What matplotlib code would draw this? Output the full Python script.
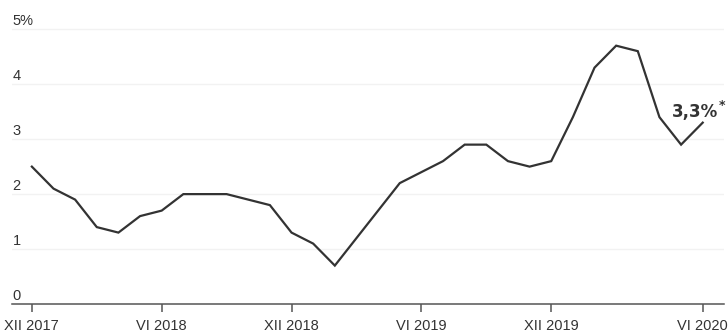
import matplotlib.pyplot as plt
import numpy as np

# monthly inflation, %
values = [2.5, 2.1, 1.9, 1.4, 1.3, 1.6, 1.7, 2.0, 2.0, 2.0, 1.9, 1.8,
          1.3, 1.1, 0.7, 1.2, 1.7, 2.2, 2.4, 2.6, 2.9, 2.9, 2.6, 2.5,
          2.6, 3.4, 4.3, 4.7, 4.6, 3.4, 2.9, 3.3]
tick_pos = [0, 6, 12, 18, 24, 31]
tick_labels = ["XII 2017", "VI 2018", "XII 2018", "VI 2019", "XII 2019", "VI 2020"]
y_levels = [0, 1, 2, 3, 4, 5]
y_labels = ["0", "1", "2", "3", "4", "5%"]
last_label = "3,3%"

narrow = ['Liberation Sans', 'DejaVu Sans']
dark = '#333333'

fig = plt.figure(figsize=(7.28, 3.36), dpi=100)
ax = fig.add_axes([0.017, 0.095, 0.978, 0.9])

x = np.arange(len(values))
ax.plot(x, values, color=dark, linewidth=1.6, solid_joinstyle='miter', zorder=3)

ax.set_xlim(-0.9, 32.0)
ax.set_ylim(0, 5.5)

# faint gridlines
for v in y_levels[1:]:
    ax.axhline(v, color='#f2f2f2', linewidth=1.0, zorder=1)

for s in ['top', 'right', 'left']:
    ax.spines[s].set_visible(False)
ax.spines['bottom'].set_color('#555555')
ax.spines['bottom'].set_linewidth(1.1)

ax.set_yticks([])
ax.set_xticks(tick_pos)
ax.set_xticklabels(tick_labels, family=narrow, fontsize=10.5, color=dark)
ax.tick_params(axis='x', direction='out', length=6, width=1.1, color='#555555', pad=5)

trans = ax.get_yaxis_transform()
for v, lab in zip(y_levels, y_labels):
    ax.text(0.0, v + 0.07, lab, transform=trans, ha='left', va='baseline',
            family=narrow, fontsize=10.5, color=dark)

ax.annotate(last_label, xy=(x[-1], values[-1]), xytext=(15, 6),
            textcoords='offset pixels', ha='right', va='baseline',
            fontsize=12, fontweight='bold', color=dark, family='DejaVu Sans')
ax.annotate("*", xy=(x[-1], values[-1]), xytext=(16, 14),
            textcoords='offset pixels', ha='left', va='baseline',
            fontsize=9, fontweight='bold', color=dark, family='DejaVu Sans')

fig.savefig('out.png', dpi=100)
